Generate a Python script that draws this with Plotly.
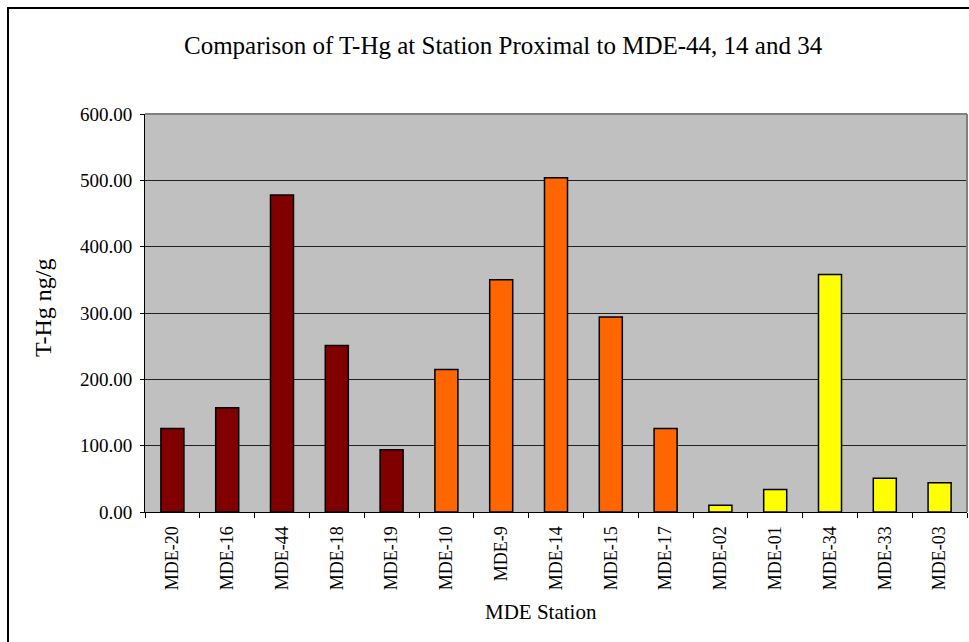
import plotly.graph_objects as go

stations = ["MDE-20", "MDE-16", "MDE-44", "MDE-18", "MDE-19",
            "MDE-10", "MDE-9", "MDE-14", "MDE-15", "MDE-17",
            "MDE-02", "MDE-01", "MDE-34", "MDE-33", "MDE-03"]
thg = [126, 157, 478, 251, 94,
       215, 350, 504, 294, 126,
       10, 34, 358, 51, 44]
groups = ["MDE-44"] * 5 + ["MDE-14"] * 5 + ["MDE-34"] * 5
group_colors = {"MDE-44": "#800000", "MDE-14": "#FF6600", "MDE-34": "#FFFF00"}
y_ticks = [0, 100, 200, 300, 400, 500, 600]

W, H = 969, 642
L, R, T, B = 145, 2, 114, 130
pw, ph = W - L - R, H - T - B

def px2x(px):
    return (px - L) / pw

def px2y(py):
    return (H - B - py) / ph

FONT = "Liberation Serif, Times New Roman, serif"

fig = go.Figure()
fig.add_trace(go.Bar(
    x=stations, y=thg,
    marker=dict(color=[group_colors[g] for g in groups],
                line=dict(color="#000000", width=1.5)),
    width=0.42,
    showlegend=False,
))

fig.update_layout(
    width=W, height=H,
    margin=dict(l=L, r=R, t=T, b=B, pad=0),
    paper_bgcolor="white",
    plot_bgcolor="#C0C0C0",
    font=dict(family=FONT, color="black", size=16),
    xaxis=dict(
        type="category",
        range=[-0.5, 14.5],
        tickangle=-90,
        tickfont=dict(family=FONT, size=18),
        ticks="outside", ticklen=5, tickcolor="black",
        tickson="boundaries",
        ticklabelstandoff=6,
        showline=True, linecolor="black", linewidth=1,
        showgrid=False,
        mirror=False,
    ),
    yaxis=dict(
        range=[0, 600],
        tickvals=y_ticks,
        ticktext=[f"{v:.2f}" for v in y_ticks],
        tickfont=dict(family=FONT, size=19),
        ticks="outside", ticklen=4, tickcolor="black",
        ticklabelstandoff=4,
        showline=True, linecolor="black", linewidth=1,
        showgrid=True, gridcolor="#202020", gridwidth=1,
        zeroline=False,
    ),
    shapes=[
        dict(type="line", xref="paper", yref="paper", x0=0, x1=1, y0=1, y1=1,
             line=dict(color="#808080", width=2)),
        dict(type="line", xref="paper", yref="paper", x0=1, x1=1, y0=0, y1=1,
             line=dict(color="#808080", width=2)),
        dict(type="rect", xref="paper", yref="paper",
             x0=px2x(8), x1=px2x(1000), y0=px2y(660), y1=px2y(8),
             line=dict(color="black", width=2), fillcolor="rgba(0,0,0,0)",
             layer="below"),
    ],
    annotations=[
        dict(text="Comparison of T-Hg at Station Proximal to MDE-44, 14 and 34",
             xref="paper", yref="paper", x=px2x(503), y=px2y(46),
             showarrow=False, font=dict(family=FONT, size=25),
             xanchor="center", yanchor="middle"),
        dict(text="T-Hg ng/g",
             xref="paper", yref="paper", x=px2x(43), y=px2y(308),
             showarrow=False, font=dict(family=FONT, size=24), textangle=-90,
             xanchor="center", yanchor="middle"),
        dict(text="MDE Station",
             xref="paper", yref="paper", x=px2x(541), y=px2y(612),
             showarrow=False, font=dict(family=FONT, size=21),
             xanchor="center", yanchor="middle"),
    ],
)

fig.write_html("out.html")
